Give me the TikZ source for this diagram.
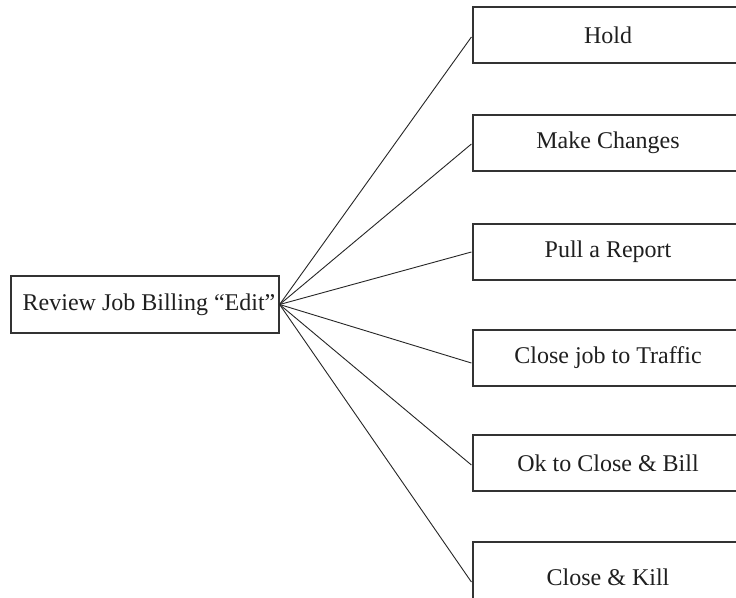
\documentclass[tikz,border=0pt]{standalone}
\usepackage{fontspec}
\setmainfont{Liberation Serif}
\begin{document}
\begin{tikzpicture}[x=1pt,y=-1pt,
  box/.style={draw=black!80, line width=1.2pt, text=black!88, inner sep=0pt,
              minimum height=56pt, font=\fontsize{24}{28}\selectfont},
  option/.style={box, minimum width=270pt},
  link/.style={draw=black!85, line width=0.9pt}]
  \useasboundingbox (0,0) rectangle (736,597);
  \clip (0,0) rectangle (736,597);
  \fill[white] (0,0) rectangle (736,597);

  % source step
  \node[box, minimum width=268pt, minimum height=57pt] (src) at (145,304.5)
    {\hspace*{8pt}Review Job Billing “Edit”};

  % possible outcomes
  \node[option] (k1) at (608,35)  {Hold};
  \node[option] (k2) at (608,143) {Make Changes};
  \node[option] (k3) at (608,252) {Pull a Report};
  \node[option] (k4) at (608,358) {Close job to Traffic};
  \node[option] (k5) at (608,463) {Ok to Close \& Bill};
  \node[option, minimum height=70pt] (k6) at (608,577) {Close \& Kill};

  % fan of connectors
  \draw[link] (src.east) -- ([xshift=-1pt,yshift=-2pt]k1.west);
  \draw[link] (src.east) -- ([xshift=-1pt,yshift=-1pt]k2.west);
  \draw[link] (src.east) -- ([xshift=-1pt]k3.west);
  \draw[link] (src.east) -- ([xshift=-1pt,yshift=-5pt]k4.west);
  \draw[link] (src.east) -- ([xshift=-1pt,yshift=-2pt]k5.west);
  \draw[link] (src.east) -- ([xshift=-1pt,yshift=-5pt]k6.west);
\end{tikzpicture}
\end{document}
